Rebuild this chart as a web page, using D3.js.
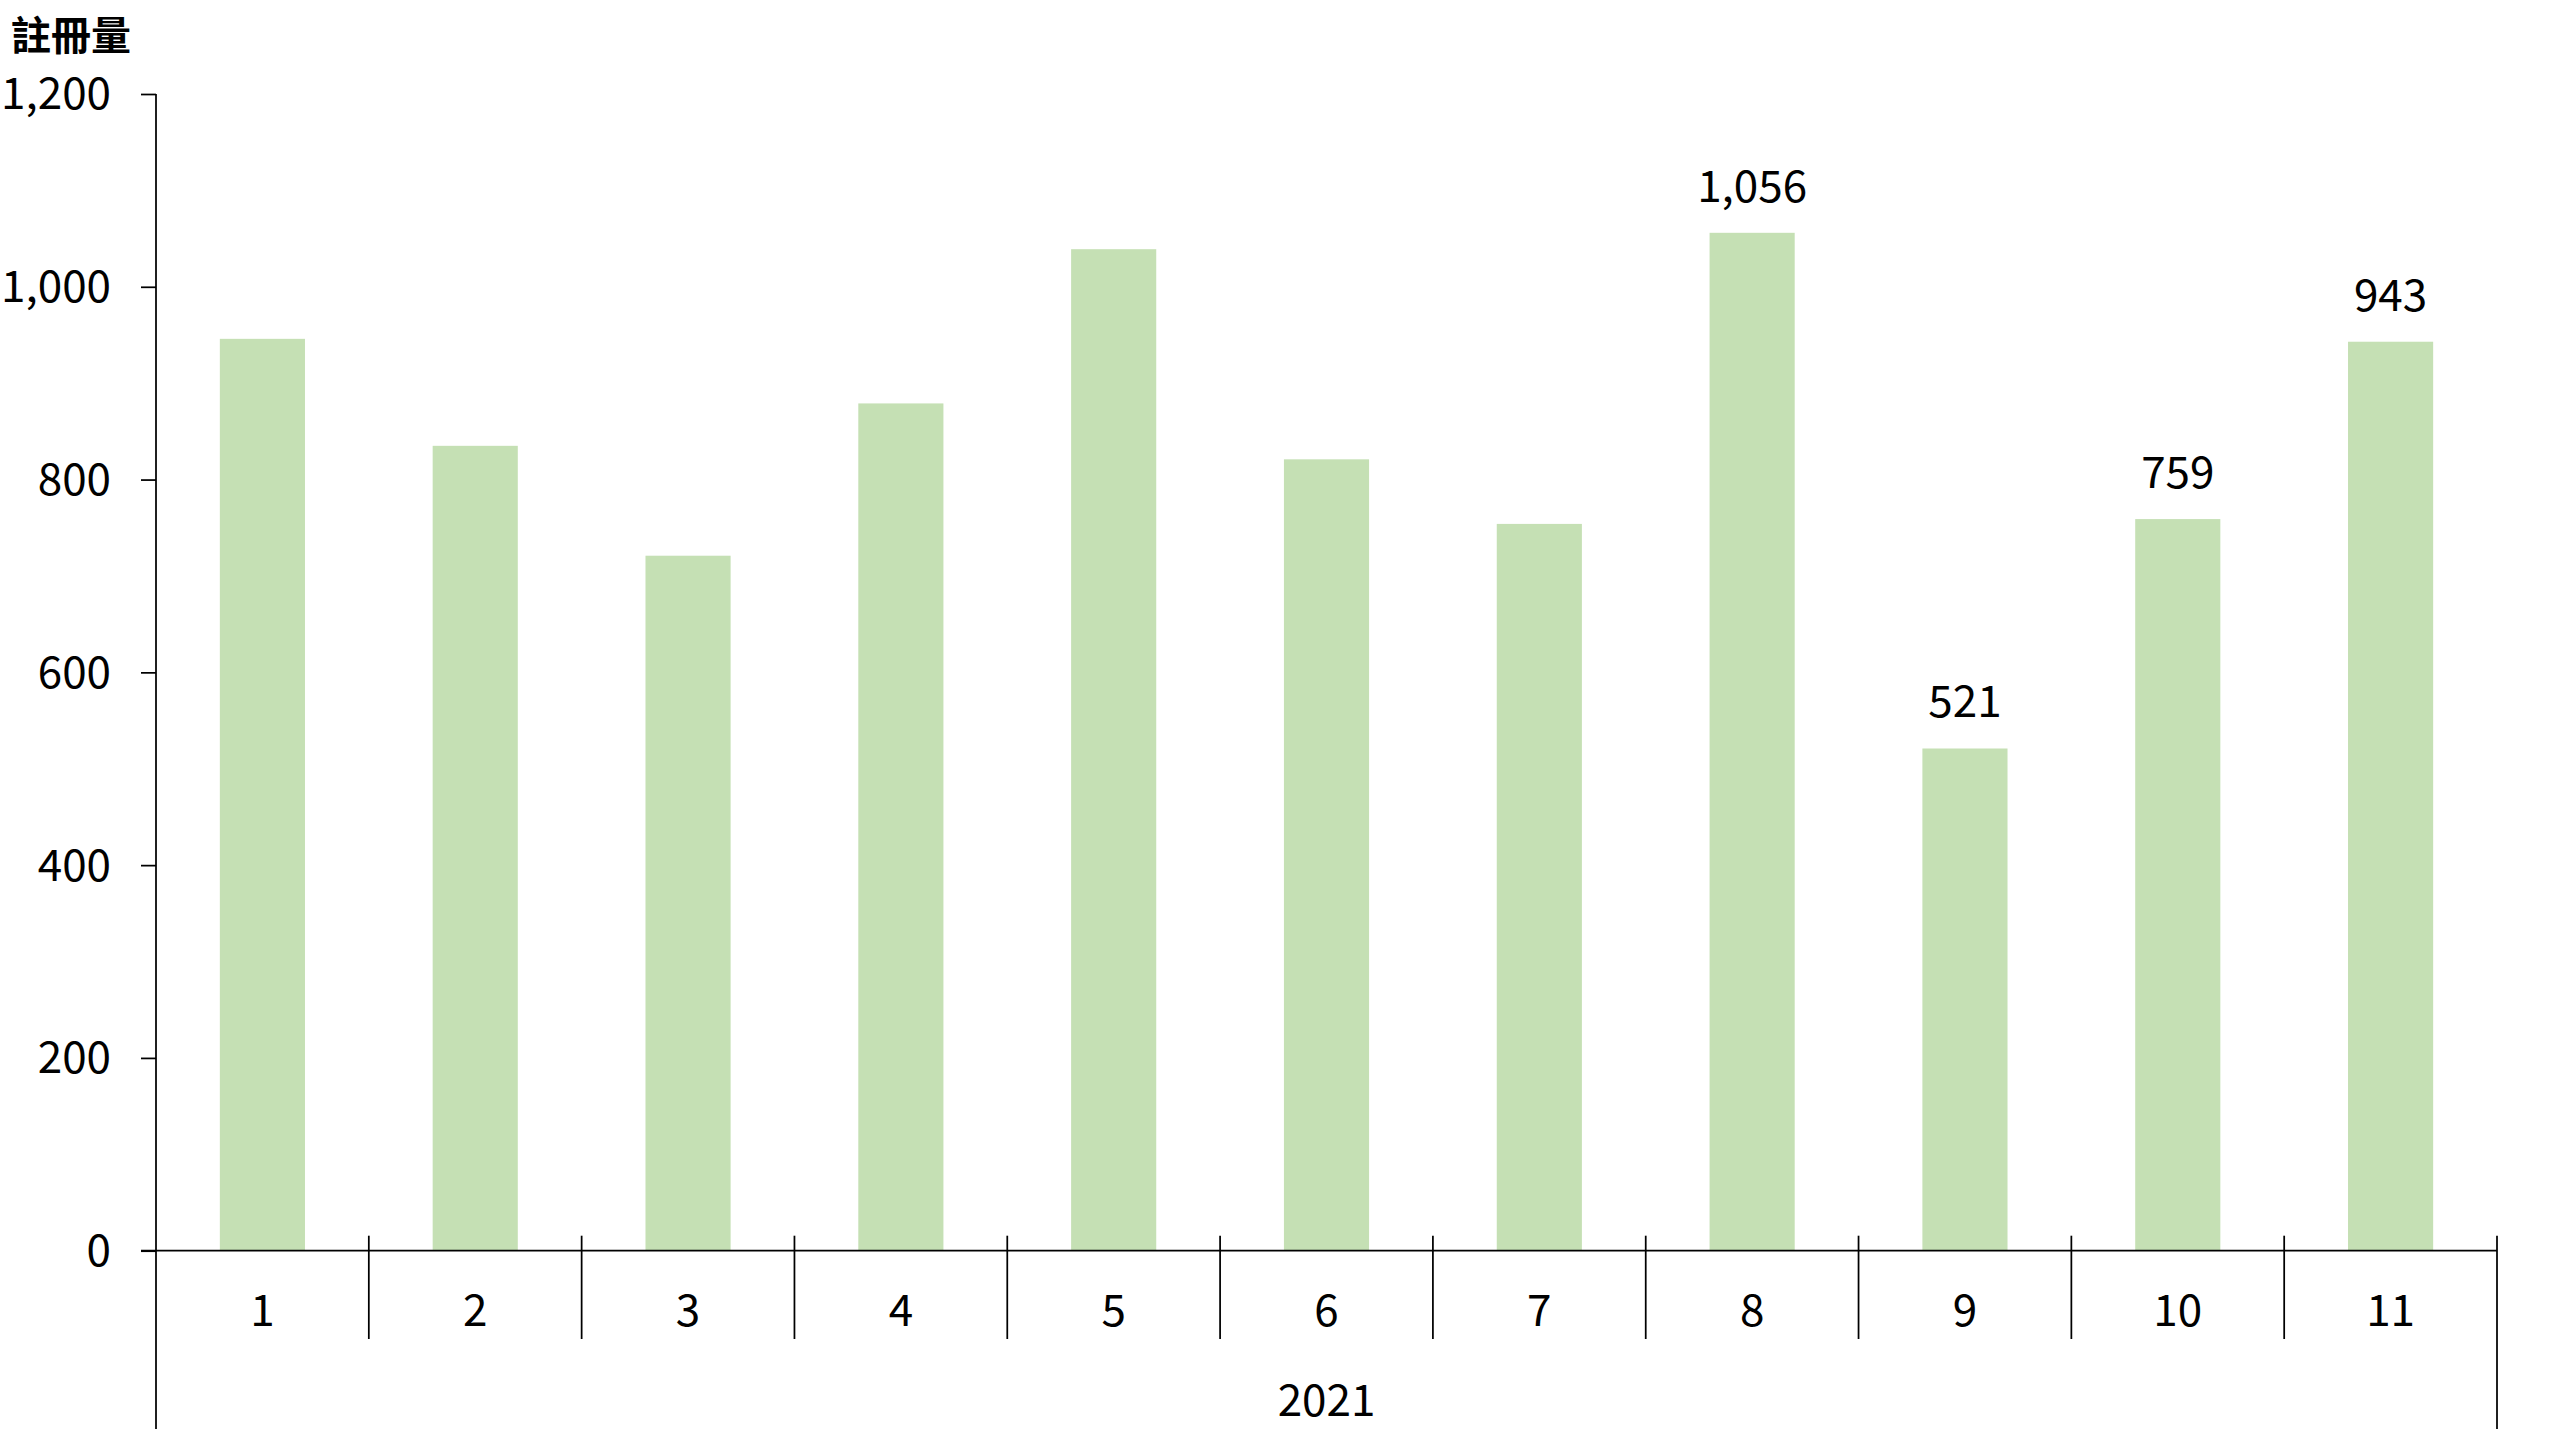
<!DOCTYPE html>
<html>
<head>
<meta charset="utf-8">
<script src="https://cdn.jsdelivr.net/npm/d3@7"></script>
<style>
  html, body { margin: 0; padding: 0; background: #fff; }
  svg { display: block; }
  text { font-family: "Noto Sans CJK TC", "Noto Sans", sans-serif; fill: #000; }
</style>
</head>
<body>
<svg id="chart" width="2560" height="1440"></svg>
<script>
const categories = ["1","2","3","4","5","6","7","8","9","10","11"];
const values = [946, 835, 721, 879, 1039, 821, 754, 1056, 521, 759, 943];
const labelled = [false, false, false, false, false, false, false, true, true, true, true];
const yTicks = [0, 200, 400, 600, 800, 1000, 1200];
const groupLabel = "2021";
const yTitle = "註冊量";

const svg = d3.select("#chart");
const plotLeft = 156, plotRight = 2497, plotTop = 94, plotBottom = 1250.7;

const x = d3.scaleBand().domain(categories).range([plotLeft, plotRight]).paddingInner(0).paddingOuter(0);
const y = d3.scaleLinear().domain([0, 1200]).range([plotBottom, plotTop]);
const barW = x.bandwidth() * 0.4;
const fmt = d3.format(",");

// bars
svg.append("g").selectAll("rect").data(values).join("rect")
  .attr("x", (d, i) => x(categories[i]) + (x.bandwidth() - barW) / 2)
  .attr("y", d => y(d))
  .attr("width", barW)
  .attr("height", d => y(0) - y(d))
  .attr("fill", "#C5E0B4");

// y axis
const yAxis = d3.axisLeft(y).tickValues(yTicks).tickFormat(fmt).tickSize(15).tickPadding(30);
const gy = svg.append("g").attr("transform", `translate(${plotLeft},0)`).call(yAxis);
gy.select(".domain").remove();
gy.selectAll(".tick line").attr("stroke", "#000").attr("stroke-width", 1.75);
gy.selectAll(".tick text").attr("font-size", 44).attr("font-family", "'Noto Sans CJK TC', sans-serif").attr("fill", "#000").attr("dy", "0.34em");
svg.append("line").attr("x1", plotLeft).attr("x2", plotLeft).attr("y1", plotTop).attr("y2", 1429)
  .attr("stroke", "#000").attr("stroke-width", 1.75);

// x axis line
svg.append("line").attr("x1", plotLeft - 15).attr("x2", plotRight).attr("y1", y(0)).attr("y2", y(0))
  .attr("stroke", "#000").attr("stroke-width", 1.75);

// category separators
const bounds = categories.slice(1).map(c => x(c));
svg.append("g").selectAll("line").data(bounds).join("line")
  .attr("x1", d => d).attr("x2", d => d)
  .attr("y1", y(0) - 15).attr("y2", 1339)
  .attr("stroke", "#000").attr("stroke-width", 1.75);
svg.append("line").attr("x1", plotRight).attr("x2", plotRight).attr("y1", y(0) - 15).attr("y2", 1429)
  .attr("stroke", "#000").attr("stroke-width", 1.75);

// category labels
svg.append("g").selectAll("text").data(categories).join("text")
  .attr("x", d => x(d) + x.bandwidth() / 2)
  .attr("y", 1311)
  .attr("dy", "0.35em")
  .attr("text-anchor", "middle")
  .attr("font-size", 44)
  .text(d => d);

// group label
svg.append("text").attr("x", (plotLeft + plotRight) / 2).attr("y", 1401).attr("dy", "0.35em")
  .attr("text-anchor", "middle").attr("font-size", 44).text(groupLabel);

// data labels
svg.append("g").selectAll("text").data(values.map((v, i) => ({v, i})).filter(d => labelled[d.i])).join("text")
  .attr("x", d => x(categories[d.i]) + x.bandwidth() / 2)
  .attr("y", d => y(d.v) - 31)
  .attr("text-anchor", "middle")
  .attr("font-size", 44)
  .text(d => fmt(d.v));

// y title
svg.append("text").attr("x", 11).attr("y", 50).attr("font-size", 40).attr("font-weight", "bold").text(yTitle);
</script>
</body>
</html>
